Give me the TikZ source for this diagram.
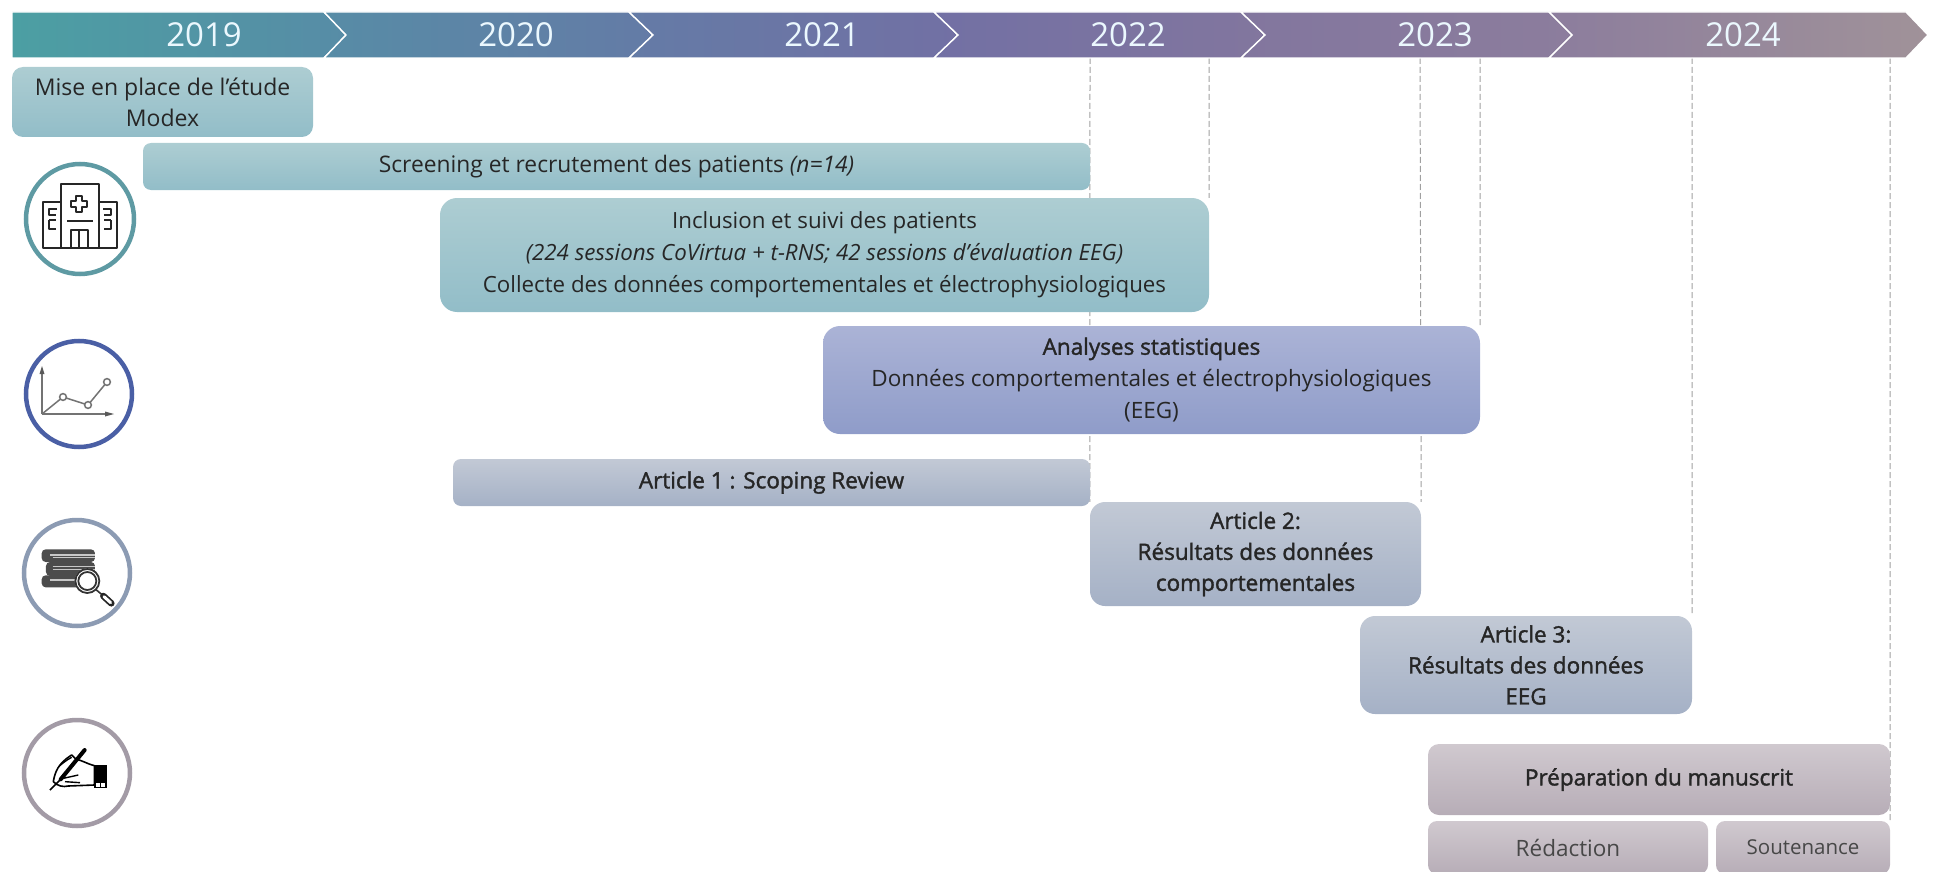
\documentclass[tikz,border=0pt]{standalone}
\usepackage{fontspec}
\setmainfont{Open Sans}
\usetikzlibrary{backgrounds}
\definecolor{txt}{HTML}{262626}
\definecolor{guideC}{HTML}{A0A0A0}
\definecolor{ring1}{HTML}{5E9AA3}
\definecolor{ring2}{HTML}{4A5FA5}
\definecolor{ring3}{HTML}{8C9BB3}
\definecolor{ring4}{HTML}{A39BA6}
\definecolor{tl0}{HTML}{4C9FA3}
\definecolor{tl1}{HTML}{578CA6}
\definecolor{tl2}{HTML}{647BA6}
\definecolor{tl3}{HTML}{7270A4}
\definecolor{tl4}{HTML}{82769E}
\definecolor{tl5}{HTML}{8C7D9D}
\definecolor{tl6}{HTML}{A09299}
\newcommand{\semib}{\addfontfeature{FakeBold=1.6}}
\tikzset{
  x=1pt,y=-1pt,
  yearlabel/.style={text=white!92!cyan,font=\fontsize{33}{33}\selectfont,inner sep=0pt},
  chev/.style={draw=white,line width=1.4pt,line join=miter},
  bar/.style={rounded corners=#1,inner sep=0pt,align=center,text=txt,
     font=\fontsize{22.5}{32}\selectfont},
  tealbar/.style={top color=boxTealT,bottom color=boxTealB},
  purpbar/.style={top color=boxPurT,bottom color=boxPurB},
  greybar/.style={top color=boxGreyT,bottom color=boxGreyB},
  manubar/.style={top color=boxManT,bottom color=boxManB},
  guide/.style={draw=guideC,line width=1pt,dash pattern=on 6pt off 3pt},
  ring/.style={draw=#1,line width=4.5pt,fill=white},
  ico/.style={draw=black!85,line width=1.5pt,line join=round},
}
\definecolor{boxTealT}{HTML}{ADCDD2}\definecolor{boxTealB}{HTML}{92BDC8}
\definecolor{boxPurT}{HTML}{ABB3D6}\definecolor{boxPurB}{HTML}{8F9CC9}
\definecolor{boxGreyT}{HTML}{C2C9D5}\definecolor{boxGreyB}{HTML}{A5B1C6}
\definecolor{boxManT}{HTML}{D0C9CF}\definecolor{boxManB}{HTML}{B7ADB7}
\newcommand{\barnode}[7]{% name x1 y1 x2 y2 options text
  \pgfmathsetmacro{\bw}{#4-#2}\pgfmathsetmacro{\bh}{#5-#3}
  \pgfmathsetmacro{\bx}{(#2+#4)/2}\pgfmathsetmacro{\by}{(#3+#5)/2}
  \node[#6,minimum width=\bw pt,minimum height=\bh pt] (#1) at (\bx,\by) {#7};}
\begin{document}
\begin{tikzpicture}
\useasboundingbox (0,0) rectangle (1935,872);
% timeline
\shadedraw[chev,left color=tl0,right color=tl1] (12,12) -- (324,12) -- (346,35) -- (324,58) -- (12,58) -- cycle;
\shadedraw[chev,left color=tl1,right color=tl2] (324,12) -- (629,12) -- (653,35) -- (629,58) -- (324,58) -- (346,35) -- cycle;
\shadedraw[chev,left color=tl2,right color=tl3] (629,12) -- (934,12) -- (958,35) -- (934,58) -- (629,58) -- (653,35) -- cycle;
\shadedraw[chev,left color=tl3,right color=tl4] (934,12) -- (1241,12) -- (1265,35) -- (1241,58) -- (934,58) -- (958,35) -- cycle;
\shadedraw[chev,left color=tl4,right color=tl5] (1241,12) -- (1549,12) -- (1572,35) -- (1549,58) -- (1241,58) -- (1265,35) -- cycle;
\shadedraw[chev,left color=tl5,right color=tl6] (1549,12) -- (1906,12) -- (1928,35) -- (1906,58) -- (1549,58) -- (1572,35) -- cycle;
\node[yearlabel] (y19) at (204,35) {2019};
\node[yearlabel] (y20) at (516,35) {2020};
\node[yearlabel] (y21) at (822,35) {2021};
\node[yearlabel] (y22) at (1128,35) {2022};
\node[yearlabel] (y23) at (1435,35) {2023};
\node[yearlabel] (y24) at (1743,35) {2024};
% bars
\barnode{mise}{12}{67}{313}{137}{bar=11pt,tealbar,font=\fontsize{23}{31}\selectfont}{Mise en place de l’étude\\Modex}
\barnode{screen}{143}{143}{1090}{190}{bar=8pt,tealbar,font=\fontsize{22.8}{31}\selectfont}{Screening et recrutement des patients \textit{(n=14)}}
\barnode{incl}{440}{198}{1209}{312}{bar=17pt,tealbar,font=\fontsize{22.3}{32}\selectfont}{Inclusion et suivi des patients\\\textit{(224 sessions CoVirtua + t-RNS; 42 sessions d’évaluation EEG)}\\Collecte des données comportementales et électrophysiologiques}
\barnode{stats}{823}{326}{1480}{434}{bar=17pt,purpbar}{{\semib Analyses statistiques}\\Données comportementales et électrophysiologiques\\(EEG)}
\barnode{art1}{453}{459}{1090}{506}{bar=8pt,greybar}{{\semib Article 1 : Scoping Review}}
\barnode{art2}{1090}{502}{1421}{606}{bar=15pt,greybar,font=\fontsize{22.5}{31}\selectfont}{\semib Article 2:\\\semib Résultats des données\\\semib comportementales}
\barnode{art3}{1360}{616}{1692}{714}{bar=15pt,greybar,font=\fontsize{22.5}{31}\selectfont}{\semib Article 3:\\\semib Résultats des données\\\semib EEG}
\barnode{prep}{1428}{744}{1890}{815}{bar=11pt,manubar}{{\semib Préparation du manuscrit}}
\barnode{redac}{1428}{821}{1708}{874}{bar=9pt,manubar,text=txt!85!white}{Rédaction}
\barnode{sout}{1716}{821}{1890}{874}{bar=9pt,manubar,text=txt!85!white,font=\fontsize{20.5}{24}\selectfont}{Soutenance}
% guides
\coordinate (g1) at (1090,58);
\coordinate (g2) at (1209,58);
\coordinate (g3) at (1420,58);
\coordinate (g4) at (1480,58);
\coordinate (g5) at (1692,58);
\coordinate (g6) at (1890,58);
\begin{scope}[on background layer]
\draw[guide] (g1) -- (art2.north west);
\draw[guide] (g2) -- (incl.north east);
\draw[guide] (g3) -- (art2.north east);
\draw[guide] (g4) -- (stats.north east);
\draw[guide] (g5) -- (art3.north east);
\draw[guide] (g6) -- (sout.north east);
\end{scope}
% icon 1: hospital
\draw[ring=ring1] (80,219) ellipse (54 and 55);
\begin{scope}[ico]
\draw (61,184) rectangle (99,248);
\draw (43,202) rectangle (61,248);
\draw (99,202) rectangle (117,248);
\draw (43,248) -- (117,248);
\draw (76,196) -- (82,196) -- (82,201) -- (87,201) -- (87,207) -- (82,207) -- (82,212) -- (76,212) -- (76,207) -- (71,207) -- (71,201) -- (76,201) -- cycle;
\draw (67,221) -- (93,221);
\draw (71,248) -- (71,230) -- (88,230) -- (88,248);
\draw (79,230) -- (79,248);
\draw (57,209) -- (49,209) -- (49,215) -- (56,215);
\draw (49,220) -- (56,220) (49,220) -- (49,229) -- (56,229);
\draw (103,209) -- (111,209) -- (111,215) -- (104,215);
\draw (111,220) -- (104,220) (111,220) -- (111,229) -- (104,229);
\end{scope}
% icon 2: chart
\draw[ring=ring2] (79,394) circle (53);
\begin{scope}[line width=1.5pt,draw=black!55]
\draw (42,414) -- (42,372);
\draw (42,414) -- (108,414);
\fill[black!65] (42,366) -- (39.5,374) -- (44.5,374) -- cycle;
\fill[black!65] (114,414) -- (105,411.5) -- (105,416.5) -- cycle;
\draw (42,414) -- (63,397) -- (88,405) -- (107,382);
\draw[fill=white] (63,397) circle (3.4);
\draw[fill=white] (88,405) circle (3.4);
\draw[fill=white] (107,382) circle (3.4);
\end{scope}
% icon 3: books + magnifier
\draw[ring=ring3] (77,573) circle (53);
\begin{scope}[shift={(0,500)},scale=1/3]
\fill[black!70,rounded corners=4pt] (125,148) rectangle (285,186);
\fill[black!70,rounded corners=4pt] (138,186) rectangle (285,228);
\fill[black!70,rounded corners=4pt] (125,226) rectangle (262,262);
\draw[black!22,line width=1.6pt] (150,165) -- (285,165) (158,172) -- (285,172) (158,200) -- (285,200) (158,208) -- (285,208) (150,240) -- (240,240);
\fill[white] (262,243) circle (38);
\draw[black!80,line width=1.8pt] (262,243) circle (36);
\draw[black!80,line width=1.8pt] (262,243) circle (27);
\draw[black!80,line width=1.6pt] (287,268) -- (306,284);
\draw[black!85,line width=6.5pt,line cap=round] (310,288) -- (334,310);
\draw[white,line width=3pt,line cap=round] (312,290) -- (332,308);
\end{scope}
% icon 4: writing hand
\draw[ring=ring4] (77,773) circle (53);
\begin{scope}[shift={(0,700)},scale=1/3]
\draw[black,line width=1.6pt,fill=white,line join=round] (160,245) .. controls (165,215) and (175,190) .. (215,165) -- (228,178) .. controls (245,180) and (262,192) .. (283,197) -- (283,255) -- (205,258) .. controls (190,262) and (172,258) .. (160,245) -- cycle;
\draw[black,line width=1.4pt] (190,235) -- (235,225) (195,245) -- (240,248) (178,198) .. controls (190,188) and (200,180) .. (215,172);
\fill[black] (283,195) rectangle (320,265);
\fill[white] (287,250) rectangle (300,262);
\fill[white] (304,250) rectangle (315,262);
\draw[black,line width=4pt,line cap=round] (254,150) -- (182,238);
\draw[black,line width=1.6pt] (182,238) -- (150,270);
\end{scope}
\end{tikzpicture}
\end{document}
